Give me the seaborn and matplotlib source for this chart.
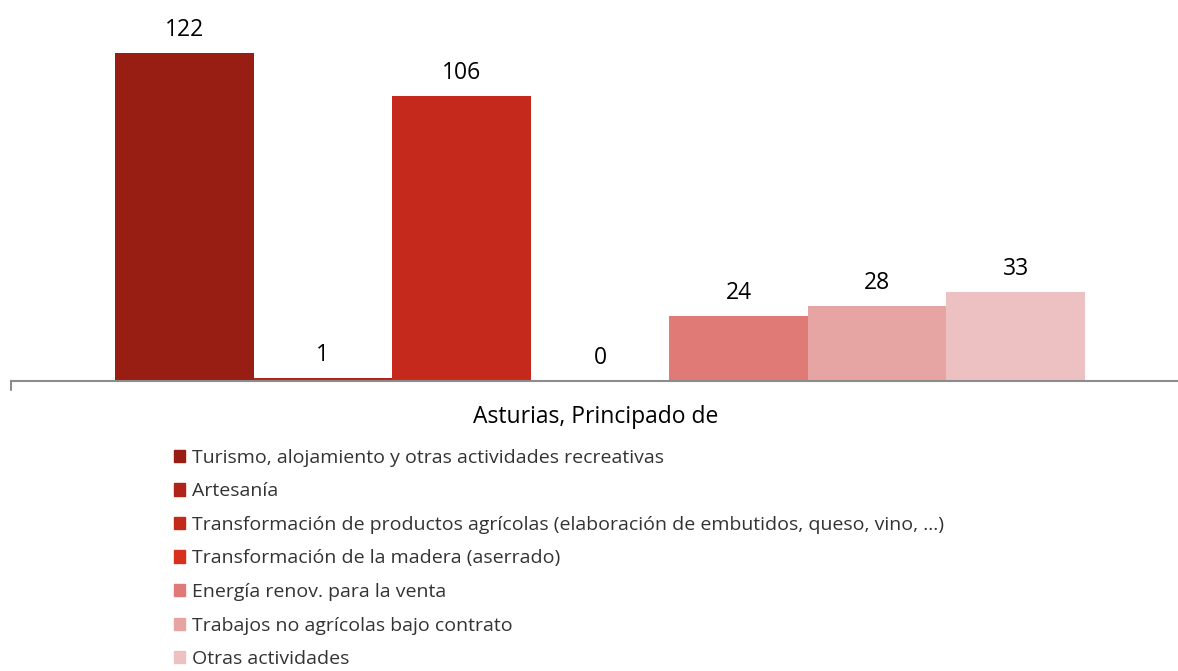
import numpy as np
import pandas as pd
import matplotlib.pyplot as plt
import seaborn as sns

region = 'Asturias, Principado de'
categories = [
    'Turismo, alojamiento y otras actividades recreativas',
    'Artesanía',
    'Transformación de productos agrícolas (elaboración de embutidos, queso, vino, ...)',
    'Transformación de la madera (aserrado)',
    'Energía renov. para la venta',
    'Trabajos no agrícolas bajo contrato',
    'Otras actividades',
]
values = [122, 1, 106, 0, 24, 28, 33]
colors = ['#981E14', '#B0221A', '#C5291C', '#D8301F', '#E07A76', '#E6A4A2', '#EDC1C1']

df = pd.DataFrame({'region': [region] * len(categories), 'cat': categories, 'val': values})

sns.set_style('white')
plt.rcParams['font.family'] = ['Open Sans', 'DejaVu Sans']

fig = plt.figure(figsize=(11.78, 6.71), dpi=100)
ax = fig.add_axes([11 / 1178, 1 - 381 / 671, 1 - 11 / 1178, 381 / 671])

sns.barplot(data=df, x='region', y='val', hue='cat', palette=colors,
            saturation=1, width=0.8, ax=ax, legend=False, linewidth=0)

for cont in ax.containers:
    ax.bar_label(cont, padding=8, fontsize=16.5, color='black')

ax.set_ylim(0, 141.6)
ax.set_xlim(-0.4858, 0.4767)
for s in ['top', 'right', 'left']:
    ax.spines[s].set_visible(False)
ax.spines['bottom'].set_color('#8c8c8c')
ax.spines['bottom'].set_linewidth(1.5)
ax.set_yticks([])
ax.set_xticks([])
ax.set_xlabel('')
ax.set_ylabel('')
# small tick at the left end of the category axis
ax.plot([0, 0], [0, -9 / 381], transform=ax.transAxes, color='#8c8c8c', lw=1.5, clip_on=False)

fig.text(596 / 1178, 1 - 417 / 671, region, ha='center', va='center', fontsize=16.5, color='black')

handles = [plt.Rectangle((0, 0), 1, 1, color=c) for c in colors]
leg = fig.legend(handles, categories, loc='upper left', bbox_to_anchor=(166 / 1178, 1 - 441 / 671),
                 frameon=False, fontsize=14, handlelength=0.6, handleheight=0.6,
                 handletextpad=0.35, labelspacing=0.8, borderaxespad=0)
for t in leg.get_texts():
    t.set_color('#333333')

fig.savefig('out.png', dpi=100)
